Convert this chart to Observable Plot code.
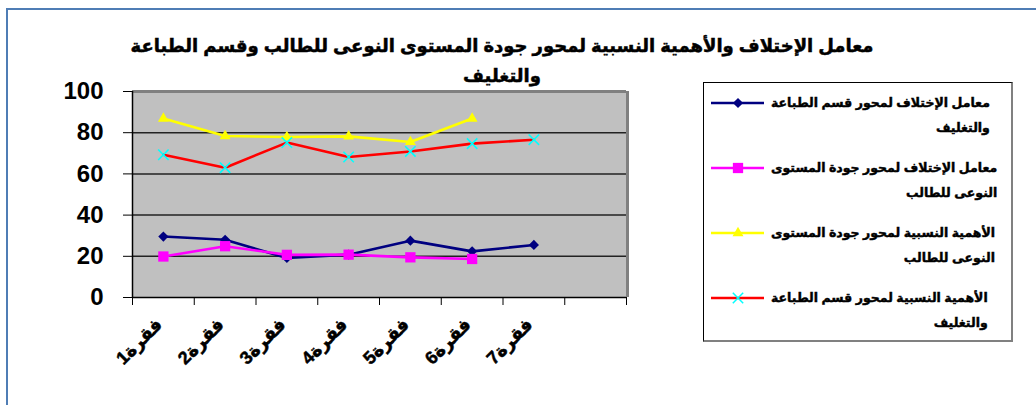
<!DOCTYPE html>
<html><head><meta charset="utf-8">
<script src="https://cdn.jsdelivr.net/npm/d3@7"></script>
<script src="https://cdn.jsdelivr.net/npm/@observablehq/plot@0.6"></script>
<style>
body{margin:0;background:#fff;}
#wrap{position:relative;width:1036px;height:405px;overflow:hidden;font-family:"Liberation Sans",Arial,"DejaVu Sans",sans-serif;color:#000;}
#frame{position:absolute;left:6px;top:8px;width:1100px;height:500px;border-left:2px solid #4f7db5;border-top:2px solid #4f7db5;}
#chart{position:absolute;left:0;top:0;}
#title{position:absolute;left:102px;width:800px;top:31px;text-align:center;direction:rtl;font-weight:bold;font-size:18px;line-height:30px;-webkit-text-stroke:0.5px #000;}
#legend{position:absolute;left:703px;top:82px;width:310px;height:260px;box-sizing:border-box;border-left:1px solid #000;border-top:1px solid #000;border-right:2px solid #808080;border-bottom:2px solid #808080;background:#fff;}
.sw{position:absolute;left:7px;}
.lt{position:absolute;left:67px;direction:rtl;text-align:right;font-weight:bold;font-size:12.5px;line-height:25px;white-space:nowrap;-webkit-text-stroke:0.45px #000;}
</style>
</head><body>
<div id="wrap">
  <div id="frame"></div>
  <div id="chart"></div>
  <div id="title"></div>
  <div id="legend"></div>
</div>
<script>
// ---- data ----
const titleLines = ["معامل الإختلاف والأهمية النسبية لمحور جودة المستوى النوعى للطالب وقسم الطباعة", "والتغليف"];
const categories = ["فقرة1", "فقرة2", "فقرة3", "فقرة4", "فقرة5", "فقرة6", "فقرة7"];
const slotCount = 8; // category slots on the axis (last one empty)
const yTicks = [0, 20, 40, 60, 80, 100];
const seriesNames = [
  ["معامل الإختلاف لمحور قسم الطباعة", "والتغليف"],
  ["معامل الإختلاف لمحور جودة المستوى", "النوعى للطالب"],
  ["الأهمية النسبية لمحور جودة المستوى", "النوعى للطالب"],
  ["الأهمية النسبية لمحور قسم الطباعة", "والتغليف"]
];
const cvPrinting   = [29.6, 28.0, 19.2, 20.8, 27.6, 22.4, 25.5];
const cvQuality    = [19.9, 24.9, 20.7, 20.8, 19.5, 18.7];
const relQuality   = [86.9, 78.4, 77.9, 78.2, 75.5, 86.9];
const relPrinting  = [69.3, 63.0, 75.2, 68.2, 70.9, 74.7, 76.6];

const seriesStyles = [
  {values: cvPrinting,  line: "#000080", symbol: "diamond2",  mfill: "#000080", mstroke: "none",   r: 4.6},
  {values: cvQuality,   line: "#ff00ff", symbol: "square",    mfill: "#ff00ff", mstroke: "none",   r: 5.8},
  {values: relQuality,  line: "#ffff00", symbol: "triangle2", mfill: "#ffff00", mstroke: "none",   r: 5.2},
  {values: relPrinting, line: "#ff0000", symbol: "times",     mfill: "none",    mstroke: "#00ffff", r: 4.8}
];

// ---- chart ----
const W = 1036, H = 405;
const marginLeft = 132, marginTop = 91, marginRight = W - 626, marginBottom = H - 297;
const toPts = vals => vals.map((v, i) => ({x: i + 0.5, y: v}));

const marks = [
  Plot.frame({fill: "#c0c0c0", stroke: null}),
  Plot.gridY(yTicks.filter(t => t > 0 && t < 100), {stroke: "#222", strokeOpacity: 1, strokeWidth: 1.5}),
  Plot.ruleY([100], {stroke: "#808080", strokeWidth: 3}),
  Plot.ruleX([slotCount], {stroke: "#808080", strokeWidth: 3, dx: 1}),
  Plot.axisY(yTicks, {tickSize: 9, tickPadding: 20, fontSize: 24, fontWeight: "bold", fill: "#000", stroke: "#000", label: null, tickFormat: d => d}),
  Plot.axisX(d3.range(slotCount + 1), {tickSize: 8, stroke: "#000", tickFormat: () => "", label: null}),
  Plot.ruleX([0], {stroke: "#000", strokeWidth: 1.5}),
  Plot.ruleY([0], {stroke: "#000", strokeWidth: 1.5})
];
for (const s of seriesStyles) {
  const pts = toPts(s.values);
  marks.push(Plot.line(pts, {x: "x", y: "y", stroke: s.line, strokeWidth: 2.6}));
  marks.push(Plot.dot(pts, {x: "x", y: "y", symbol: () => s.symbol, r: s.r, fill: s.mfill, stroke: s.mstroke, strokeWidth: s.symbol === "times" ? 1.6 : 0}));
}
marks.push(Plot.text(categories, {
  x: (d, i) => i + 0.5, y: 0, text: d => d, rotate: -45, textAnchor: "end",
  dx: -4, dy: 24, fontSize: 18, fontWeight: "bold", fill: "#000", stroke: "#000", strokeWidth: 0.5
}));

const chart = Plot.plot({
  width: W, height: H, marginLeft, marginTop, marginRight, marginBottom,
  style: {background: "transparent", overflow: "visible", fontFamily: '"Liberation Sans", Arial, "DejaVu Sans", sans-serif'},
  x: {type: "linear", domain: [0, slotCount], axis: null},
  y: {domain: [0, 100], axis: null},
  symbol: {type: "identity"},
  marks
});
document.getElementById("chart").appendChild(chart);

// ---- title ----
document.getElementById("title").innerHTML = titleLines.map(t => `<div>${t}</div>`).join("");

// ---- legend ----
const legend = d3.select("#legend");
const symMap = {diamond2: d3.symbolDiamond2, square: d3.symbolSquare, triangle2: d3.symbolTriangle2, times: d3.symbolTimes};
seriesStyles.forEach((s, i) => {
  const cy = 20 + 65 * i;
  const svg = legend.append("svg").attr("class", "sw").attr("width", 54).attr("height", 20)
    .style("top", (cy - 10) + "px");
  svg.append("line").attr("x1", 0).attr("x2", 53).attr("y1", 10).attr("y2", 10)
    .attr("stroke", s.line).attr("stroke-width", 2.6);
  svg.append("path").attr("transform", "translate(27,10)")
    .attr("d", d3.symbol(symMap[s.symbol], Math.PI * s.r * s.r)())
    .attr("fill", s.mfill).attr("stroke", s.mstroke).attr("stroke-width", s.symbol === "times" ? 1.5 : 0);
  legend.append("div").attr("class", "lt").style("top", (cy - 12.5) + "px")
    .html(seriesNames[i].map(t => `<div>${t}</div>`).join(""));
});
</script>
</body></html>
